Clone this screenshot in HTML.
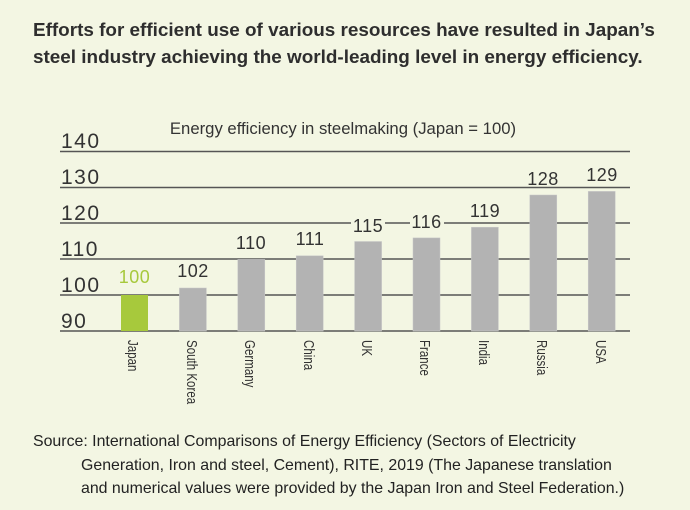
<!DOCTYPE html>
<html><head><meta charset="utf-8"><style>
body{margin:0;width:690px;height:510px;background:#f3f6e3;font-family:"Liberation Sans",sans-serif;overflow:hidden;position:relative;color:#333}
.t{position:absolute;left:33px;top:17px;font-weight:bold;font-size:18.9px;line-height:27px;color:#2e2e2e}
.s{position:absolute;left:33px;top:430px;font-size:15.9px;line-height:23.5px;color:#222}
.s div{padding-left:48px}
</style></head><body>
<div class="t">Efforts for efficient use of various resources have resulted in Japan’s<br>steel industry achieving the world-leading level in energy efficiency.</div>
<svg width="690" height="510" style="position:absolute;left:0;top:0" font-family="Liberation Sans,sans-serif">
<text x="343" y="134" text-anchor="middle" font-size="16.7" fill="#333">Energy efficiency in steelmaking (Japan = 100)</text>
<g stroke="#555" stroke-width="1.5">
<line x1="60" y1="151.5" x2="630" y2="151.5"/>
<line x1="60" y1="187.5" x2="630" y2="187.5"/>
<line x1="60" y1="223" x2="630" y2="223"/>
<line x1="60" y1="259" x2="630" y2="259"/>
<line x1="60" y1="295" x2="630" y2="295"/>
<line x1="60" y1="331" x2="630" y2="331"/>
</g>
<g font-size="21" fill="#333" letter-spacing="1.5">
<text x="61" y="148">140</text><text x="61" y="184">130</text><text x="61" y="220">120</text>
<text x="61" y="256">110</text><text x="61" y="292">100</text><text x="61" y="328">90</text>
</g>
<g fill="#b3b3b3" stroke="#c8c8c8" stroke-width="0.5">
<rect x="121" y="295" width="27" height="36" fill="#a7c93c" stroke="none"/>
<rect x="179.4" y="288" width="27" height="43"/>
<rect x="237.8" y="259.4" width="27" height="71.6"/>
<rect x="296.2" y="255.8" width="27" height="75.2"/>
<rect x="354.6" y="241.5" width="27" height="89.5"/>
<rect x="413" y="237.9" width="27" height="93.1"/>
<rect x="471.4" y="227.2" width="27" height="103.8"/>
<rect x="529.8" y="195" width="27" height="136"/>
<rect x="588.2" y="191.4" width="27" height="139.6"/>
</g>
<g font-size="18" fill="#333" text-anchor="middle" letter-spacing="0.5">
<rect x="351" y="214" width="34" height="18" fill="#f3f6e3"/>
<rect x="410" y="210" width="34" height="18" fill="#f3f6e3"/>
<text x="134.5" y="283" fill="#a7c93c">100</text>
<text x="193" y="277">102</text>
<text x="251" y="249">110</text>
<text x="310" y="245">111</text>
<text x="368" y="232">115</text>
<text x="426.5" y="228">116</text>
<text x="485" y="217">119</text>
<text x="543" y="185">128</text>
<text x="602" y="181">129</text>
</g>
<g font-size="15" fill="#333">
<text transform="translate(128,340) rotate(90) scale(0.77,1)">Japan</text>
<text transform="translate(187,340) rotate(90) scale(0.77,1)">South Korea</text>
<text transform="translate(245,340) rotate(90) scale(0.77,1)">Germany</text>
<text transform="translate(304,340) rotate(90) scale(0.77,1)">China</text>
<text transform="translate(362,340) rotate(90) scale(0.77,1)">UK</text>
<text transform="translate(420,340) rotate(90) scale(0.77,1)">France</text>
<text transform="translate(479,340) rotate(90) scale(0.77,1)">India</text>
<text transform="translate(537,340) rotate(90) scale(0.77,1)">Russia</text>
<text transform="translate(596,340) rotate(90) scale(0.77,1)">USA</text>
</g>
</svg>
<div class="s">Source: International Comparisons of Energy Efficiency (Sectors of Electricity<div>Generation, Iron and steel, Cement), RITE, 2019 (The Japanese translation<br>and numerical values were provided by the Japan Iron and Steel Federation.)</div></div>
</body></html>
